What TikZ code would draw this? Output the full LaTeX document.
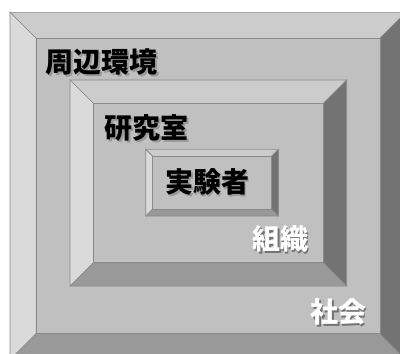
\documentclass[tikz,border=0pt]{standalone}
\usepackage{fontspec}
\newfontfamily\jp{Noto Sans CJK JP}
\definecolor{bvtop}{HTML}{CCCCCC}
\definecolor{bvleft}{HTML}{DADADA}
\definecolor{bvface}{HTML}{C0C0C0}
\definecolor{bvbottom}{HTML}{999999}
\definecolor{bvright}{HTML}{737373}
\definecolor{bvline}{HTML}{8A8A8A}
\tikzset{
  edge/.style={draw=bvline, line width=0.6pt, line join=miter},
  labelfont/.style={font=\jp\bfseries\fontsize{28}{28}\selectfont, inner sep=0pt},
  darklabel/.style={labelfont, text=black},
  lightlabel/.style={labelfont, text=white},
  shadowlabel/.style={labelfont, text=#1, opacity=0.5},
}
% #1 x1, #2 y1, #3 x2, #4 y2 (outer), #5 bevel
\newcommand\bevbox[5]{%
  \fill[bvtop,edge] (#1,#2) -- (#3,#2) -- ({#3-#5},{#2+#5}) -- ({#1+#5},{#2+#5}) -- cycle;
  \fill[bvleft,edge] (#1,#2) -- ({#1+#5},{#2+#5}) -- ({#1+#5},{#4-#5}) -- (#1,#4) -- cycle;
  \fill[bvbottom,edge] (#1,#4) -- ({#1+#5},{#4-#5}) -- ({#3-#5},{#4-#5}) -- (#3,#4) -- cycle;
  \fill[bvright,edge] (#3,#2) -- (#3,#4) -- ({#3-#5},{#4-#5}) -- ({#3-#5},{#2+#5}) -- cycle;
  \fill[bvface,edge] ({#1+#5},{#2+#5}) rectangle ({#3-#5},{#4-#5});
}
\begin{document}
\begin{tikzpicture}[x=1pt,y=-1pt]
\fill[white] (0,0) rectangle (400,354);
\clip (0,0) rectangle (400,354);
\bevbox{10}{12.3}{406}{359.7}{26.2}
\bevbox{70}{80}{346.7}{286}{23.3}
\bevbox{145.7}{149.3}{278.5}{216}{7}
% soft shadows
\node[shadowlabel=black!55] (envs) at (103.5,64) {周辺環境};
\node[shadowlabel=black!55] (labs) at (148.5,130) {研究室};
\node[shadowlabel=black!55] (exps) at (209,184) {実験者};
\node[shadowlabel=black!85] (orgs) at (282,241) {組織};
\node[shadowlabel=black!85] (socs) at (340,314) {社会};
% labels
\node[darklabel] (env) at (101.5,62) {周辺環境};
\node[darklabel] (lab) at (146.5,128) {研究室};
\node[darklabel] (exp) at (207,182) {実験者};
\node[lightlabel] (org) at (280,239) {組織};
\node[lightlabel] (soc) at (338,312) {社会};
\end{tikzpicture}
\end{document}
